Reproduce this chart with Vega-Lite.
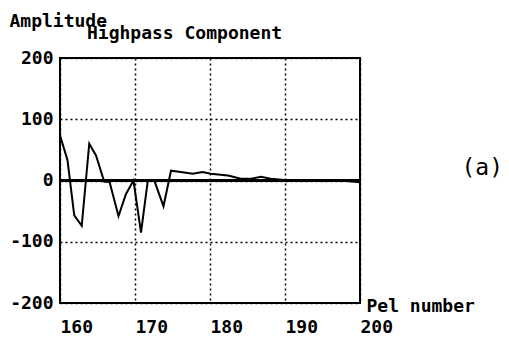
{
  "$schema": "https://vega.github.io/schema/vega-lite/v6.json",
  "autosize": "none",
  "width": 300,
  "height": 245,
  "padding": {"left": 60, "top": 58, "right": 149, "bottom": 34},
  "background": "white",
  "title": {
    "text": "Highpass Component",
    "anchor": "start",
    "frame": "group",
    "dx": 27,
    "offset": -45,
    "baseline": "alphabetic",
    "font": "DejaVu Sans Mono",
    "fontSize": 18,
    "fontWeight": "bold",
    "color": "black"
  },
  "config": {
    "view": {"stroke": "black", "strokeWidth": 2},
    "axis": {
      "labelFont": "DejaVu Sans Mono",
      "labelFontSize": 18,
      "labelFontWeight": "bold",
      "labelColor": "black",
      "titleFont": "DejaVu Sans Mono",
      "titleFontSize": 18,
      "titleFontWeight": "bold",
      "titleColor": "black",
      "ticks": false,
      "domain": false,
      "gridColor": "black",
      "gridOpacity": 1,
      "gridWidth": 1.5,
      "gridDash": [2, 3]
    }
  },
  "data": {
    "values": [
      {"pel": 160.0, "amp": 74},
      {"pel": 161.0, "amp": 33},
      {"pel": 161.9, "amp": -57},
      {"pel": 162.9, "amp": -74},
      {"pel": 163.9, "amp": 60},
      {"pel": 164.8, "amp": 41},
      {"pel": 165.9, "amp": -2},
      {"pel": 166.6, "amp": -2},
      {"pel": 167.8, "amp": -58},
      {"pel": 168.8, "amp": -22},
      {"pel": 169.8, "amp": 0},
      {"pel": 170.8, "amp": -85},
      {"pel": 171.7, "amp": -1},
      {"pel": 172.6, "amp": -1},
      {"pel": 173.8, "amp": -42},
      {"pel": 174.8, "amp": 16},
      {"pel": 176.1, "amp": 14},
      {"pel": 177.7, "amp": 11},
      {"pel": 179.0, "amp": 14},
      {"pel": 180.1, "amp": 11},
      {"pel": 182.4, "amp": 8},
      {"pel": 184.1, "amp": 3},
      {"pel": 185.5, "amp": 3},
      {"pel": 186.8, "amp": 6},
      {"pel": 188.1, "amp": 3},
      {"pel": 189.9, "amp": 1},
      {"pel": 192.1, "amp": -1},
      {"pel": 194.8, "amp": 0},
      {"pel": 197.5, "amp": 0},
      {"pel": 200.0, "amp": -3}
    ]
  },
  "layer": [
    {
      "mark": {"type": "line", "color": "black", "strokeWidth": 2, "clip": true},
      "encoding": {
        "x": {
          "field": "pel",
          "type": "quantitative",
          "scale": {"domain": [160, 200], "nice": false, "zero": false},
          "axis": {
            "values": [160, 170, 180, 190, 200],
            "labelAlign": "left",
            "labelBaseline": "alphabetic",
            "labelPadding": 29,
            "labelDx": -5,
            "title": "Pel number",
            "titleAngle": 0,
            "titleAlign": "left",
            "titleBaseline": "alphabetic",
            "titleX": 306,
            "titleY": 8
          }
        },
        "y": {
          "field": "amp",
          "type": "quantitative",
          "scale": {"domain": [-200, 200], "nice": false},
          "axis": {
            "values": [-200, -100, 0, 100, 200],
            "labelExpr": "'' + datum.value",
            "labelPadding": 7,
            "labelAlign": "right",
            "labelBaseline": "middle",
            "title": "Amplitude",
            "titleAngle": 0,
            "titleAlign": "left",
            "titleBaseline": "alphabetic",
            "titleX": -51,
            "titleY": -32
          }
        }
      }
    },
    {
      "mark": {"type": "rule", "color": "black", "strokeWidth": 2.4},
      "encoding": {
        "y": {
          "datum": 0,
          "type": "quantitative",
          "scale": {"domain": [-200, 200], "nice": false},
          "axis": {
            "orient": "right",
            "labels": false,
            "grid": false,
            "title": "(a)",
            "titleFont": "DejaVu Sans Mono",
            "titleFontSize": 23,
            "titleFontWeight": "normal",
            "titleAngle": 0,
            "titleAlign": "left",
            "titleBaseline": "alphabetic",
            "titleX": 101,
            "titleY": 116
          }
        }
      }
    }
  ],
  "resolve": {"scale": {"y": "independent"}}
}
